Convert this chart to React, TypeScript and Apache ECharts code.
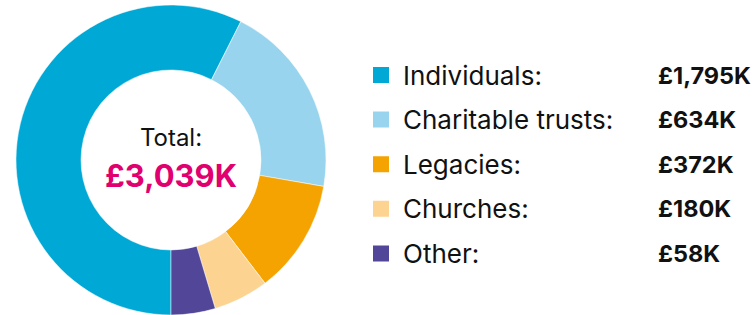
import React, { useEffect, useRef } from "react";
import * as echarts from "echarts";

const categories = ["Individuals", "Charitable trusts", "Legacies", "Churches", "Other"];
const values = [1795, 634, 372, 180, 58];
const colors = ["#00A8D6", "#98D4ED", "#F5A300", "#FCD391", "#524699"];

const fmt = (v: number) => v.toLocaleString("en-GB");

export default function App() {
  const ref = useRef<HTMLDivElement>(null);
  useEffect(() => {
    if (!ref.current) return;
    const chart = echarts.init(ref.current, null, { renderer: "svg" });
    const total = values.reduce((a, b) => a + b, 0);
    const FONT = "Inter";
    chart.setOption({
      animation: false,
      textStyle: { fontFamily: FONT },
      color: colors,
      legend: {
        orient: "vertical",
        left: 371,
        top: 62,
        padding: 0,
        icon: "rect",
        itemWidth: 18,
        itemHeight: 18,
        itemGap: 18.6,
        itemTextGap: 14,
        selectedMode: false,
        data: categories,
        formatter: (name: string) => {
          const i = categories.indexOf(name);
          return `{n|${name}:}{v|£${fmt(values[i])}K}`;
        },
        textStyle: {
          lineHeight: 24,
          rich: {
            n: {
              fontFamily: FONT,
              fontSize: 26,
              color: "#111111",
              width: 255,
              padding: [0, 0, 0, 8],
              lineHeight: 24,
            },
            v: { fontFamily: FONT, fontSize: 23.5, fontWeight: "bold", color: "#111111", lineHeight: 24 },
          },
        },
      },
      graphic: [
        {
          type: "text",
          x: 171,
          y: 137,
          style: {
            text: "Total:",
            fontFamily: FONT,
            fontSize: 24,
            fill: "#111111",
            textAlign: "center",
            textVerticalAlign: "middle",
          },
        },
        {
          type: "text",
          x: 171,
          y: 175,
          style: {
            text: `£${fmt(total)}K`,
            fontFamily: FONT,
            fontSize: 31,
            fontWeight: "bold",
            fill: "#E0006F",
            textAlign: "center",
            textVerticalAlign: "middle",
          },
        },
      ],
      series: [
        {
          type: "pie",
          center: [171, 160],
          radius: [90, 155],
          startAngle: 270,
          clockwise: true,
          minAngle: 16.6,
          label: { show: false },
          labelLine: { show: false },
          emphasis: { disabled: true },
          itemStyle: { borderColor: "#ffffff", borderWidth: 0.5 },
          data: categories.map((c, i) => ({ name: c, value: values[i] })),
        },
      ],
    });
    return () => chart.dispose();
  }, []);
  return (
    <div
      ref={ref}
      style={{ position: "fixed", left: 0, top: 0, width: 754, height: 315, background: "#ffffff" }}
    />
  );
}
